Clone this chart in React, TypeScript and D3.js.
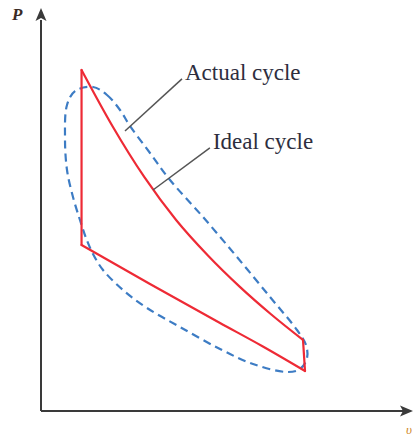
import React from "react";
import * as d3 from "d3";

// Ideal cycle (v, P) in arbitrary units
const idealUpperV = [1.09, 1.927, 2.78, 3.632, 4.487, 5.339, 6.191, 7.043];
const idealUpperP = [8.462, 7.06, 5.801, 4.739, 3.859, 3.087, 2.395, 1.764];
const idealLowerV = [1.09, 2.93, 4.812, 5.941, 7.097];
const idealLowerP = [4.119, 3.151, 2.184, 1.613, 0.993];

// Actual cycle (closed loop, clockwise from top)
const actualV = [1.398, 1.774, 2.124, 2.392, 2.93, 3.468, 4.355, 5.269, 6.156, 6.882, 7.124, 7.151, 6.962, 6.613, 5.699, 4.812, 3.737, 2.849, 2.204, 1.667, 1.398, 1.21, 1.048, 0.86, 0.699, 0.645, 0.699, 0.914];
const actualP = [8.04, 7.841, 7.469, 7.072, 6.402, 5.732, 4.814, 3.821, 2.829, 2.01, 1.638, 1.315, 1.042, 0.968, 1.166, 1.538, 2.084, 2.556, 3.002, 3.499, 3.896, 4.293, 4.739, 5.31, 5.98, 6.799, 7.593, 7.94];

// Labels and leader lines
const labels = ["Actual cycle", "Ideal cycle"];
const leaderFromV = [2.258, 3.011];
const leaderFromP = [6.948, 5.484];
const leaderToV = [3.79, 4.54];
const leaderToP = [8.24, 6.53];

export default function App() {
  const W = 415, H = 436;
  const x = d3.scaleLinear().domain([0, 10]).range([41, 413]);
  const y = d3.scaleLinear().domain([0, 10]).range([411, 8]);

  const upper: [number, number][] = idealUpperV.map((v, i) => [x(v), y(idealUpperP[i])]);
  const lower: [number, number][] = idealLowerV.map((v, i) => [x(v), y(idealLowerP[i])]);
  const actualPts: [number, number][] = actualV.map((v, i) => [x(v), y(actualP[i])]);

  const smooth = d3.line().curve(d3.curveMonotoneX);
  const upperPath = smooth(upper) as string;
  const lowerPath = smooth(lower) as string;
  const leftSide = d3.line()([upper[0], lower[0]]) as string;
  const rightSide = d3.line()([upper[upper.length - 1], lower[lower.length - 1]]) as string;

  const actualPath = d3.line().curve(d3.curveCatmullRomClosed.alpha(0.5))(actualPts) as string;

  const axisColor = "#3a3a3a";
  const red = "#ee2a35";
  return (
    <div style={{ position: "absolute", left: 0, top: 0 }}>
      <svg width={W} height={H} style={{ display: "block", background: "#fff" }}>
        {/* axes */}
        <line x1={x(0)} y1={y(0)} x2={x(0)} y2={y(9.7)} stroke={axisColor} strokeWidth={2} />
        <line x1={x(0)} y1={y(0)} x2={x(9.75)} y2={y(0)} stroke={axisColor} strokeWidth={2} />
        <path d={`M${x(0)},${y(10)} L${x(0) - 5.5},${y(10) + 13} L${x(0)},${y(10) + 10} L${x(0) + 5.5},${y(10) + 13} Z`} fill={axisColor} />
        <path d={`M${x(10)},${y(0)} L${x(10) - 13},${y(0) - 5.5} L${x(10) - 10},${y(0)} L${x(10) - 13},${y(0) + 5.5} Z`} fill={axisColor} />
        <text x={12} y={20} fontFamily="Liberation Serif, serif" fontStyle="italic" fontWeight="bold" fontSize={17} fill="#3b2b25">P</text>
        <text x={406} y={434} fontFamily="Liberation Serif, serif" fontStyle="italic" fontSize={13} fill="#d08a2a">υ</text>

        {/* actual cycle */}
        <path d={actualPath} fill="none" stroke="#3d7cc4" strokeWidth={2.2} strokeDasharray="8,5" />
        {/* ideal cycle */}
        <g fill="none" stroke={red} strokeWidth={2.2} strokeLinecap="round">
          <path d={leftSide} />
          <path d={lowerPath} />
          <path d={rightSide} />
          <path d={upperPath} />
        </g>

        {/* leaders */}
        {labels.map((l, i) => (
          <line key={l} x1={x(leaderFromV[i])} y1={y(leaderFromP[i])} x2={x(leaderToV[i])} y2={y(leaderToP[i])} stroke="#555" strokeWidth={1.5} />
        ))}
        {labels.map((l, i) => (
          <text key={l + "t"} x={x(leaderToV[i]) + 3} y={y(leaderToP[i]) + 1} fontFamily="Liberation Serif, serif" fontSize={23} fill="#2e2e3e">{l}</text>
        ))}
      </svg>
    </div>
  );
}
